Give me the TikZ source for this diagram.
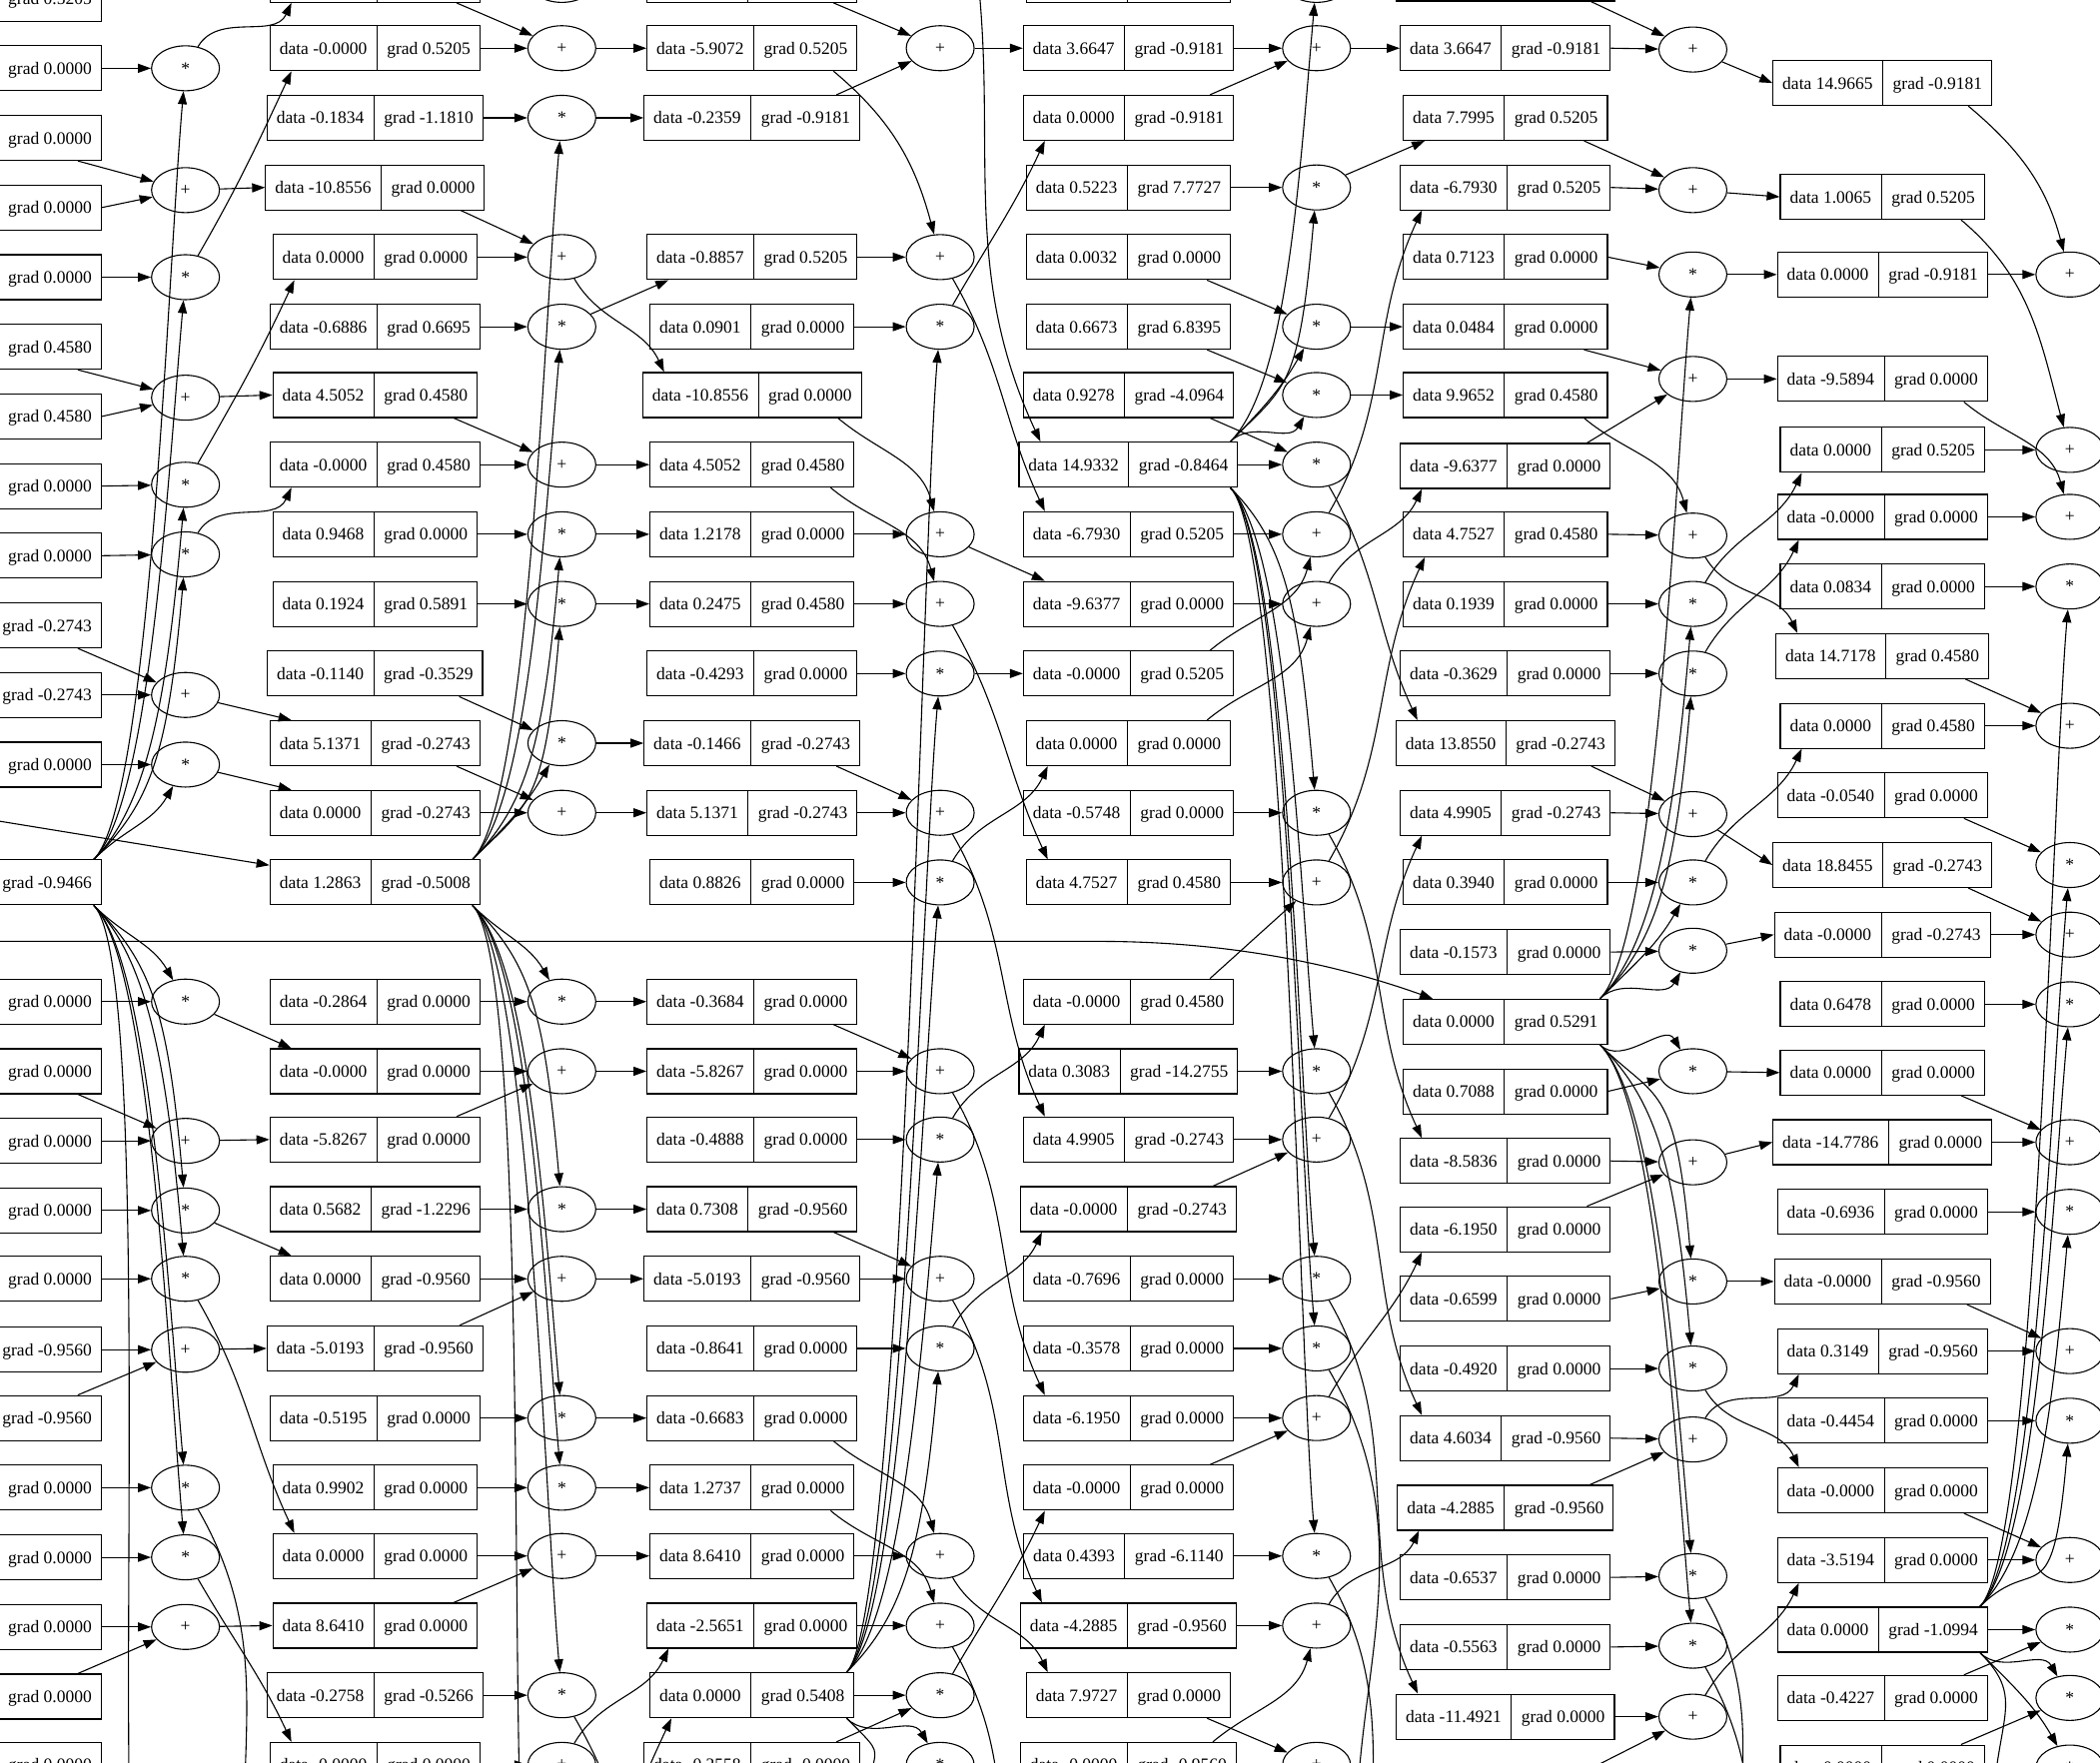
\documentclass[tikz,border=0pt]{standalone}
\usepackage{fontspec}
\setmainfont{Liberation Serif}
\usetikzlibrary{shapes.multipart,shapes.geometric,arrows.meta}
\newcommand\gvfont{\fontsize{4.375}{5}\selectfont}
\newcommand\gvsep{\hspace*{2.375pt}}
\newcommand\gvbar{\vrule width 0.275pt height 7.125pt depth 4.125pt}
\tikzset{
 rec/.style={rectangle, draw, line width=0.275pt, inner sep=0pt, font=\gvfont},
 op/.style={ellipse, draw, line width=0.275pt, minimum width=17pt, minimum height=11.25pt, inner sep=0pt, font=\gvfont},
 e/.style={-{Triangle[length=3.25pt,width=2.25pt]}, line width=0.275pt},
 fanlong/.style={out distance=20pt, in distance=45pt},
}
\newcommand\Rec[5]{\node[rec] (#1) at (#2,#3) {\gvsep data #4\gvsep\gvbar\gvsep grad #5\gvsep};}
\newcommand\RecA[4]{\node[rec,anchor=east] (#1) at (76,#2) {\gvsep data #3\gvsep\gvbar\gvsep grad #4\gvsep};}
\newcommand\Op[4]{\node[op] (#1) at (#2,#3) {#4};}
\newcommand\RH[2]{\draw[e] (#1.east) -- (#2);}
\newcommand\OH[2]{\draw[e] (#1) -- (#2.west);}
\newcommand\RDn[2]{\draw[e] ([xshift=-6pt]#1.south east) -- (#2);}
\newcommand\RUp[2]{\draw[e] ([xshift=-6pt]#1.north east) -- (#2);}
\newcommand\RDN[2]{\draw[e] ([xshift=-6pt]#1.south east) to[out=-40,in=105] (#2);}
\newcommand\RUP[2]{\draw[e] ([xshift=-6pt]#1.north east) to[out=40,in=-105] (#2);}
\newcommand\ODn[2]{\draw[e] (#1) -- ([xshift=5.5pt]#2.north west);}
\newcommand\OUp[2]{\draw[e] (#1) -- ([xshift=5.5pt]#2.south west);}
\newcommand\ODN[2]{\draw[e] (#1) to[out=-60,in=115] ([xshift=5.5pt]#2.north west);}
\newcommand\OUP[2]{\draw[e] (#1) to[out=60,in=-115] ([xshift=5.5pt]#2.south west);}
\newcommand\FUp[2]{\draw[e] ([xshift=-2pt]#1.north east) to[out=45,in=-95,fanlong] (#2);}
\newcommand\FDn[2]{\draw[e] ([xshift=-2pt]#1.south east) to[out=-45,in=95,fanlong] (#2);}
\newcommand\FUs[2]{\draw[e] ([xshift=-2pt]#1.north east) to[out=45,in=-120] (#2);}
\newcommand\FDs[2]{\draw[e] ([xshift=-2pt]#1.south east) to[out=-45,in=120] (#2);}
\newcommand\OFF[2]{\draw[e] (#1) to[out=-60,in=95] (#2);}
\begin{document}
\begin{tikzpicture}[x=0.33515pt,y=-0.33515pt]
\useasboundingbox (0,0) rectangle (1568,1316);
\fill[white] (0,0) rectangle (1568,1316);
\clip (0,0) rectangle (1568,1316);
% offscreen coordinates
\coordinate (cinB) at (-100,597);
\coordinate (cinE) at (-100,703);
\coordinate (cinEb) at (820,703);
\coordinate (ctopD) at (724,-60);
\coordinate (cA1) at (100,1420);
\coordinate (cP1) at (185,1420);
\coordinate (cB1) at (392,1420);
\coordinate (cQ1) at (470,1420);
\coordinate (cC0) at (455,1420);
\coordinate (cC1) at (650,1420);
\coordinate (cR1) at (752,1420);
\coordinate (cS1) at (1015,1420);
\coordinate (cS2) at (1028,1420);
\coordinate (cE1) at (1130,1350);
\coordinate (cT1) at (1302,1420);
\coordinate (cT2) at (1312,1420);
\coordinate (cF1) at (1490,1420);
% column A
\RecA{Am1}{-1}{0.0000}{0.5205}
\RecA{A51}{51}{0.0000}{0.0000}
\RecA{A103}{103}{-0.0000}{0.0000}
\RecA{A155}{155}{0.0000}{0.0000}
\RecA{A207}{207}{0.0000}{0.0000}
\RecA{A259}{259}{0.0000}{0.4580}
\RecA{A311}{311}{0.0000}{0.4580}
\RecA{A363}{363}{0.0000}{0.0000}
\RecA{A415}{415}{0.0000}{0.0000}
\RecA{A467}{467}{0.0000}{-0.2743}
\RecA{A519}{519}{0.0000}{-0.2743}
\RecA{A571}{571}{0.0000}{0.0000}
\RecA{A659}{659}{0.0000}{-0.9466}
\RecA{A748}{748}{0.0000}{0.0000}
\RecA{A800}{800}{0.0000}{0.0000}
\RecA{A852}{852}{0.0000}{0.0000}
\RecA{A904}{904}{0.0000}{0.0000}
\RecA{A955}{955}{0.0000}{0.0000}
\RecA{A1008}{1008}{0.0000}{-0.9560}
\RecA{A1059}{1059}{0.0000}{-0.9560}
\RecA{A1111}{1111}{0.0000}{0.0000}
\RecA{A1163}{1163}{0.0000}{0.0000}
\RecA{A1215}{1215}{0.0000}{0.0000}
\RecA{A1267}{1267}{0.0000}{0.0000}
\RecA{A1318}{1318}{0.0000}{0.0000}
% ops P
\Op{P51}{138.5}{51}{*}
\Op{P142}{138.5}{142}{+}
\Op{P207}{138.5}{207}{*}
\Op{P297}{138.5}{297}{+}
\Op{P362}{138.5}{362}{*}
\Op{P414}{138.5}{414}{*}
\Op{P519}{138.5}{519}{+}
\Op{P571}{138.5}{571}{*}
\Op{P748}{138.5}{748}{*}
\Op{P852}{138.5}{852}{+}
\Op{P904}{138.5}{904}{*}
\Op{P955}{138.5}{955}{*}
\Op{P1008}{138.5}{1008}{+}
\Op{P1111}{138.5}{1111}{*}
\Op{P1163}{138.5}{1163}{*}
\Op{P1215}{138.5}{1215}{+}
% column B
\Rec{Bm15}{280}{-15}{-5.9072}{0.5205}
\Rec{B36}{280}{36}{-0.0000}{0.5205}
\Rec{B88}{280}{88}{-0.1834}{-1.1810}
\Rec{B140}{280}{140}{-10.8556}{0.0000}
\Rec{B192}{280}{192}{0.0000}{0.0000}
\Rec{B244}{280}{244}{-0.6886}{0.6695}
\Rec{B295}{280}{295}{4.5052}{0.4580}
\Rec{B347}{280}{347}{-0.0000}{0.4580}
\Rec{B399}{280}{399}{0.9468}{0.0000}
\Rec{B451}{280}{451}{0.1924}{0.5891}
\Rec{B503}{280}{503}{-0.1140}{-0.3529}
\Rec{B555}{280}{555}{5.1371}{-0.2743}
\Rec{B607}{280}{607}{0.0000}{-0.2743}
\Rec{B659}{280}{659}{1.2863}{-0.5008}
\Rec{B748}{280}{748}{-0.2864}{0.0000}
\Rec{B800}{280}{800}{-0.0000}{0.0000}
\Rec{B851}{280}{851}{-5.8267}{0.0000}
\Rec{B903}{280}{903}{0.5682}{-1.2296}
\Rec{B955}{280}{955}{0.0000}{-0.9560}
\Rec{B1007}{280}{1007}{-5.0193}{-0.9560}
\Rec{B1059}{280}{1059}{-0.5195}{0.0000}
\Rec{B1111}{280}{1111}{0.9902}{0.0000}
\Rec{B1162}{280}{1162}{0.0000}{0.0000}
\Rec{B1214}{280}{1214}{8.6410}{0.0000}
\Rec{B1266}{280}{1266}{-0.2758}{-0.5266}
\Rec{B1318}{280}{1318}{-0.0000}{0.0000}
% ops Q
\Op{Qm15}{419.5}{-15}{+}
\Op{Q36}{419.5}{36}{+}
\Op{Q88}{419.5}{88}{*}
\Op{Q192}{419.5}{192}{+}
\Op{Q244}{419.5}{244}{*}
\Op{Q347}{419.5}{347}{+}
\Op{Q399}{419.5}{399}{*}
\Op{Q451}{419.5}{451}{*}
\Op{Q555}{419.5}{555}{*}
\Op{Q607}{419.5}{607}{+}
\Op{Q748}{419.5}{748}{*}
\Op{Q800}{419.5}{800}{+}
\Op{Q903}{419.5}{903}{*}
\Op{Q955}{419.5}{955}{+}
\Op{Q1059}{419.5}{1059}{*}
\Op{Q1111}{419.5}{1111}{*}
\Op{Q1162}{419.5}{1162}{+}
\Op{Q1266}{419.5}{1266}{*}
\Op{Q1318}{419.5}{1318}{+}
% column C
\Rec{Cm15}{561.5}{-15}{3.9006}{-0.9181}
\Rec{C36}{561.5}{36}{-5.9072}{0.5205}
\Rec{C88}{561.5}{88}{-0.2359}{-0.9181}
\Rec{C192}{561.5}{192}{-0.8857}{0.5205}
\Rec{C244}{561.5}{244}{0.0901}{0.0000}
\Rec{C295}{561.5}{295}{-10.8556}{0.0000}
\Rec{C347}{561.5}{347}{4.5052}{0.4580}
\Rec{C399}{561.5}{399}{1.2178}{0.0000}
\Rec{C451}{561.5}{451}{0.2475}{0.4580}
\Rec{C503}{561.5}{503}{-0.4293}{0.0000}
\Rec{C555}{561.5}{555}{-0.1466}{-0.2743}
\Rec{C607}{561.5}{607}{5.1371}{-0.2743}
\Rec{C659}{561.5}{659}{0.8826}{0.0000}
\Rec{C748}{561.5}{748}{-0.3684}{0.0000}
\Rec{C800}{561.5}{800}{-5.8267}{0.0000}
\Rec{C851}{561.5}{851}{-0.4888}{0.0000}
\Rec{C903}{561.5}{903}{0.7308}{-0.9560}
\Rec{C955}{561.5}{955}{-5.0193}{-0.9560}
\Rec{C1007}{561.5}{1007}{-0.8641}{0.0000}
\Rec{C1059}{561.5}{1059}{-0.6683}{0.0000}
\Rec{C1111}{561.5}{1111}{1.2737}{0.0000}
\Rec{C1162}{561.5}{1162}{8.6410}{0.0000}
\Rec{C1214}{561.5}{1214}{-2.5651}{0.0000}
\Rec{C1266}{561.5}{1266}{0.0000}{0.5408}
\Rec{C1318}{561.5}{1318}{-0.2558}{-0.0000}
% ops R
\Op{R36}{702}{36}{+}
\Op{R192}{702}{192}{+}
\Op{R244}{702}{244}{*}
\Op{R399}{702}{399}{+}
\Op{R451}{702}{451}{+}
\Op{R503}{702}{503}{*}
\Op{R607}{702}{607}{+}
\Op{R659}{702}{659}{*}
\Op{R800}{702}{800}{+}
\Op{R851}{702}{851}{*}
\Op{R955}{702}{955}{+}
\Op{R1007}{702}{1007}{*}
\Op{R1162}{702}{1162}{+}
\Op{R1214}{702}{1214}{+}
\Op{R1266}{702}{1266}{*}
\Op{R1318}{702}{1318}{*}
% column D
\Rec{Dm15}{842.5}{-15}{0.0000}{0.0000}
\Rec{D36}{842.5}{36}{3.6647}{-0.9181}
\Rec{D88}{842.5}{88}{0.0000}{-0.9181}
\Rec{D140}{842.5}{140}{0.5223}{7.7727}
\Rec{D192}{842.5}{192}{0.0032}{0.0000}
\Rec{D244}{842.5}{244}{0.6673}{6.8395}
\Rec{D295}{842.5}{295}{0.9278}{-4.0964}
\Rec{D347}{842.5}{347}{14.9332}{-0.8464}
\Rec{D399}{842.5}{399}{-6.7930}{0.5205}
\Rec{D451}{842.5}{451}{-9.6377}{0.0000}
\Rec{D503}{842.5}{503}{-0.0000}{0.5205}
\Rec{D555}{842.5}{555}{0.0000}{0.0000}
\Rec{D607}{842.5}{607}{-0.5748}{0.0000}
\Rec{D659}{842.5}{659}{4.7527}{0.4580}
\Rec{D748}{842.5}{748}{-0.0000}{0.4580}
\Rec{D800}{842.5}{800}{0.3083}{-14.2755}
\Rec{D851}{842.5}{851}{4.9905}{-0.2743}
\Rec{D903}{842.5}{903}{-0.0000}{-0.2743}
\Rec{D955}{842.5}{955}{-0.7696}{0.0000}
\Rec{D1007}{842.5}{1007}{-0.3578}{0.0000}
\Rec{D1059}{842.5}{1059}{-6.1950}{0.0000}
\Rec{D1111}{842.5}{1111}{-0.0000}{0.0000}
\Rec{D1162}{842.5}{1162}{0.4393}{-6.1140}
\Rec{D1214}{842.5}{1214}{-4.2885}{-0.9560}
\Rec{D1266}{842.5}{1266}{7.9727}{0.0000}
\Rec{D1318}{842.5}{1318}{-0.0000}{-0.9560}
% ops S
\Op{Sm15}{983}{-15}{*}
\Op{S36}{983}{36}{+}
\Op{S140}{983}{140}{*}
\Op{S244}{983}{244}{*}
\Op{S295}{983}{295}{*}
\Op{S347}{983}{347}{*}
\Op{S399}{983}{399}{+}
\Op{S451}{983}{451}{+}
\Op{S607}{983}{607}{*}
\Op{S659}{983}{659}{+}
\Op{S800}{983}{800}{*}
\Op{S851}{983}{851}{+}
\Op{S955}{983}{955}{*}
\Op{S1007}{983}{1007}{*}
\Op{S1059}{983}{1059}{+}
\Op{S1162}{983}{1162}{*}
\Op{S1214}{983}{1214}{+}
\Op{S1318}{983}{1318}{+}
% column E
\Rec{Em15}{1124}{-16}{11.3018}{-0.9181}
\Rec{E36}{1124}{36}{3.6647}{-0.9181}
\Rec{E88}{1124}{88}{7.7995}{0.5205}
\Rec{E140}{1124}{140}{-6.7930}{0.5205}
\Rec{E192}{1124}{192}{0.7123}{0.0000}
\Rec{E244}{1124}{244}{0.0484}{0.0000}
\Rec{E295}{1124}{295}{9.9652}{0.4580}
\Rec{E348}{1124}{348}{-9.6377}{0.0000}
\Rec{E399}{1124}{399}{4.7527}{0.4580}
\Rec{E451}{1124}{451}{0.1939}{0.0000}
\Rec{E503}{1124}{503}{-0.3629}{0.0000}
\Rec{E555}{1124}{555}{13.8550}{-0.2743}
\Rec{E607}{1124}{607}{4.9905}{-0.2743}
\Rec{E659}{1124}{659}{0.3940}{0.0000}
\Rec{E711}{1124}{711}{-0.1573}{0.0000}
\Rec{E763}{1124}{763}{0.0000}{0.5291}
\Rec{E815}{1124}{815}{0.7088}{0.0000}
\Rec{E867}{1124}{867}{-8.5836}{0.0000}
\Rec{E918}{1124}{918}{-6.1950}{0.0000}
\Rec{E970}{1124}{970}{-0.6599}{0.0000}
\Rec{E1022}{1124}{1022}{-0.4920}{0.0000}
\Rec{E1074}{1124}{1074}{4.6034}{-0.9560}
\Rec{E1126}{1124}{1126}{-4.2885}{-0.9560}
\Rec{E1178}{1124}{1178}{-0.6537}{0.0000}
\Rec{E1230}{1124}{1230}{-0.5563}{0.0000}
\Rec{E1282}{1124}{1282}{-11.4921}{0.0000}
% ops T
\Op{T37}{1264}{37}{+}
\Op{T142}{1264}{142}{+}
\Op{T205}{1264}{205}{*}
\Op{T283}{1264}{283}{+}
\Op{T400}{1264}{400}{+}
\Op{T451}{1264}{451}{*}
\Op{T503}{1264}{503}{*}
\Op{T608}{1264}{608}{+}
\Op{T659}{1264}{659}{*}
\Op{T710}{1264}{710}{*}
\Op{T800}{1264}{800}{*}
\Op{T868}{1264}{868}{+}
\Op{T957}{1264}{957}{*}
\Op{T1022}{1264}{1022}{*}
\Op{T1075}{1264}{1075}{+}
\Op{T1177}{1264}{1177}{*}
\Op{T1229}{1264}{1229}{*}
\Op{T1282}{1264}{1282}{+}
% column F
\Rec{F62}{1405.5}{62}{14.9665}{-0.9181}
\Rec{F147}{1405.5}{147}{1.0065}{0.5205}
\Rec{F205}{1405.5}{205}{0.0000}{-0.9181}
\Rec{F283}{1405.5}{283}{-9.5894}{0.0000}
\Rec{F336}{1405.5}{336}{0.0000}{0.5205}
\Rec{F386}{1405.5}{386}{-0.0000}{0.0000}
\Rec{F438}{1405.5}{438}{0.0834}{0.0000}
\Rec{F490}{1405.5}{490}{14.7178}{0.4580}
\Rec{F542}{1405.5}{542}{0.0000}{0.4580}
\Rec{F594}{1405.5}{594}{-0.0540}{0.0000}
\Rec{F646}{1405.5}{646}{18.8455}{-0.2743}
\Rec{F698}{1405.5}{698}{-0.0000}{-0.2743}
\Rec{F750}{1405.5}{750}{0.6478}{0.0000}
\Rec{F801}{1405.5}{801}{0.0000}{0.0000}
\Rec{F853}{1405.5}{853}{-14.7786}{0.0000}
\Rec{F905}{1405.5}{905}{-0.6936}{0.0000}
\Rec{F957}{1405.5}{957}{-0.0000}{-0.9560}
\Rec{F1009}{1405.5}{1009}{0.3149}{-0.9560}
\Rec{F1061}{1405.5}{1061}{-0.4454}{0.0000}
\Rec{F1113}{1405.5}{1113}{-0.0000}{0.0000}
\Rec{F1165}{1405.5}{1165}{-3.5194}{0.0000}
\Rec{F1217}{1405.5}{1217}{0.0000}{-1.0994}
\Rec{F1268}{1405.5}{1268}{-0.4227}{0.0000}
\Rec{F1320}{1405.5}{1320}{0.0000}{0.0000}
% ops U
\Op{U205}{1545.5}{205}{+}
\Op{U336}{1545.5}{336}{+}
\Op{U386}{1545.5}{386}{+}
\Op{U438}{1545.5}{438}{*}
\Op{U542}{1545.5}{542}{+}
\Op{U646}{1545.5}{646}{*}
\Op{U698}{1545.5}{698}{+}
\Op{U750}{1545.5}{750}{*}
\Op{U853}{1545.5}{853}{+}
\Op{U905}{1545.5}{905}{*}
\Op{U1009}{1545.5}{1009}{+}
\Op{U1061}{1545.5}{1061}{*}
\Op{U1165}{1545.5}{1165}{+}
\Op{U1217}{1545.5}{1217}{*}
\Op{U1268}{1545.5}{1268}{*}
\Op{U1320}{1545.5}{1320}{*}
% ===== edges A -> P
\RH{A51}{P51} \RDn{A103}{P142} \RH{A155}{P142} \RH{A207}{P207}
\RDn{A259}{P297} \RH{A311}{P297} \RH{A363}{P362} \RH{A415}{P414}
\RDn{A467}{P519} \RH{A519}{P519} \RH{A571}{P571} \RH{A748}{P748}
\RDn{A800}{P852} \RH{A852}{P852} \RH{A904}{P904} \RH{A955}{P955}
\RH{A1008}{P1008} \RUp{A1059}{P1008} \RH{A1111}{P1111} \RH{A1163}{P1163}
\RH{A1215}{P1215} \RUp{A1267}{P1215}
\FUp{A659}{P51} \FUp{A659}{P207} \FUp{A659}{P362} \FUp{A659}{P414} \FUs{A659}{P571}
\FDs{A659}{P748} \FDn{A659}{P904} \FDn{A659}{P955} \FDn{A659}{P1111} \FDn{A659}{P1163}
\draw[e] ([xshift=-2pt]A659.south east) to[out=-45,in=95,fanlong] (cA1);
% P -> B
\OUP{P51}{Bm15} \OH{P142}{B140} \OUP{P207}{B36} \OH{P297}{B295}
\OUP{P362}{B192} \OUP{P414}{B347} \ODn{P519}{B555} \ODn{P571}{B607}
\ODn{P748}{B800} \OH{P852}{B851} \ODn{P904}{B955} \ODN{P955}{B1162}
\OH{P1008}{B1007} \OFF{P1111}{cP1} \ODN{P1163}{B1318} \OH{P1215}{B1214}
\draw[e] (cinB) -- (B659);
% B -> Q
\RDn{Bm15}{Q36} \RH{B36}{Q36} \RH{B88}{Q88} \RDn{B140}{Q192} \RH{B192}{Q192}
\RH{B244}{Q244} \RDn{B295}{Q347} \RH{B347}{Q347} \RH{B399}{Q399} \RH{B451}{Q451}
\RDn{B503}{Q555} \RDn{B555}{Q607} \RH{B607}{Q607} \RH{B748}{Q748} \RH{B800}{Q800}
\RUp{B851}{Q800} \RH{B903}{Q903} \RH{B955}{Q955} \RUp{B1007}{Q955} \RH{B1059}{Q1059}
\RH{B1111}{Q1111} \RH{B1162}{Q1162} \RUp{B1214}{Q1162} \RH{B1266}{Q1266} \RH{B1318}{Q1318}
\FUp{B659}{Q88} \FUp{B659}{Q244} \FUp{B659}{Q399} \FUp{B659}{Q451} \FUs{B659}{Q555}
\FDs{B659}{Q748} \FDn{B659}{Q903} \FDn{B659}{Q1059} \FDn{B659}{Q1111} \FDn{B659}{Q1266}
\draw[e] ([xshift=-2pt]B659.south east) to[out=-45,in=95,fanlong] (cB1);
% Q -> C
\OH{Qm15}{Cm15} \OH{Q36}{C36} \OH{Q88}{C88} \ODN{Q192}{C295} \OUp{Q244}{C192}
\OH{Q347}{C347} \OH{Q399}{C399} \OH{Q451}{C451} \OH{Q555}{C555} \OH{Q607}{C607}
\OH{Q748}{C748} \OH{Q800}{C800} \OH{Q903}{C903} \OH{Q955}{C955} \OH{Q1059}{C1059}
\OH{Q1111}{C1111} \OH{Q1162}{C1162} \OFF{Q1266}{cQ1} \OUP{Q1318}{C1214}
\draw[e] (cC0) to[out=80,in=-115] ([xshift=5.5pt]C1266.south west);
% C -> R
\RDn{Cm15}{R36} \RUp{C88}{R36} \RDN{C36}{R192} \RH{C192}{R192} \RH{C244}{R244}
\RDN{C295}{R399} \RDN{C347}{R451} \RH{C399}{R399} \RH{C451}{R451} \RH{C503}{R503}
\RDn{C555}{R607} \RH{C607}{R607} \RH{C659}{R659} \RDn{C748}{R800} \RH{C800}{R800}
\RH{C851}{R851} \RDn{C903}{R955} \RH{C955}{R955} \RH{C1007}{R1007} \RDN{C1059}{R1162}
\RDN{C1111}{R1214} \RH{C1162}{R1162} \RH{C1214}{R1214} \RH{C1266}{R1266} \RUp{C1318}{R1266}
\FUp{C1266}{R244} \FUp{C1266}{R503} \FUp{C1266}{R659} \FUp{C1266}{R851} \FUp{C1266}{R1007}
\FDs{C1266}{R1318}
\draw[e] ([xshift=-2pt]C1266.south east) to[out=-45,in=95,fanlong] (cC1);
% R -> D
\OH{R36}{D36} \ODN{R192}{D399} \OUP{R244}{D88} \ODn{R399}{D451} \ODN{R451}{D659}
\OH{R503}{D503} \ODN{R607}{D851} \OUP{R659}{D555} \ODN{R800}{D1059} \OUP{R851}{D748}
\ODN{R955}{D1214} \OUP{R1007}{D903} \ODN{R1162}{D1266} \OFF{R1214}{cR1} \OUP{R1266}{D1111}
\draw[e] (ctopD) to[out=-80,in=115] ([xshift=5.5pt]D347.north west);
% D -> S
\RH{Dm15}{Sm15} \RH{D36}{S36} \RUp{D88}{S36} \RH{D140}{S140} \RDn{D192}{S244}
\RDn{D244}{S295} \RDn{D295}{S347} \RH{D347}{S347} \RH{D399}{S399} \RH{D451}{S451}
\RUP{D503}{S399} \RUP{D555}{S451} \RH{D607}{S607} \RH{D659}{S659} \RUp{D748}{S659}
\RH{D800}{S800} \RH{D851}{S851} \RUp{D903}{S851} \RH{D955}{S955} \RH{D1007}{S1007}
\RH{D1059}{S1059} \RUp{D1111}{S1059} \RH{D1162}{S1162} \RH{D1214}{S1214} \RUP{D1318}{S1214}
\RDn{D1266}{S1318}
\FUp{D347}{Sm15} \FUp{D347}{S140} \FUs{D347}{S244} \FUs{D347}{S295}
\FDn{D347}{S607} \FDn{D347}{S800} \FDn{D347}{S955} \FDn{D347}{S1007} \FDn{D347}{S1162}
% S -> E
\OH{S36}{E36} \OUp{S140}{E88} \OH{S244}{E244} \OH{S295}{E295} \ODN{S347}{E555}
\OUP{S399}{E140} \OUP{S451}{E348} \ODN{S607}{E867} \OUP{S659}{E399} \ODN{S800}{E1074}
\OUP{S851}{E607} \ODN{S955}{E1282} \OFF{S1007}{cS1} \OUP{S1059}{E918} \OFF{S1162}{cS2}
\OUP{S1214}{E1126}
\draw[e] (cinE) -- (cinEb) .. controls +(100,0) and +(-70,-25) .. ([xshift=7.5pt]E763.north west);
% E -> T
\RDn{Em15}{T37} \RH{E36}{T37} \RDn{E88}{T142} \RH{E140}{T142} \RH{E192}{T205}
\RDn{E244}{T283} \RUp{E348}{T283} \RDN{E295}{T400} \RH{E399}{T400} \RH{E451}{T451}
\RH{E503}{T503} \RDn{E555}{T608} \RH{E607}{T608} \RH{E659}{T659} \RH{E711}{T710}
\RH{E815}{T800} \RH{E867}{T868} \RUp{E918}{T868} \RH{E970}{T957} \RH{E1022}{T1022}
\RH{E1074}{T1075} \RUp{E1126}{T1075} \RH{E1178}{T1177} \RH{E1230}{T1229} \RH{E1282}{T1282}
\draw[e] (cE1) -- (T1282);
\FUp{E763}{T205} \FUp{E763}{T451} \FUp{E763}{T503} \FUs{E763}{T659} \FUs{E763}{T710}
\FDs{E763}{T800} \FDn{E763}{T957} \FDn{E763}{T1022} \FDn{E763}{T1177} \FDn{E763}{T1229}
% T -> F
\OH{T37}{F62} \OH{T142}{F147} \OH{T205}{F205} \OH{T283}{F283} \ODN{T400}{F490}
\OUP{T451}{F336} \OUP{T503}{F386} \OH{T608}{F646} \OUP{T659}{F542} \OH{T710}{F698}
\OH{T800}{F801} \OH{T868}{F853} \OH{T957}{F957} \ODN{T1022}{F1113} \OUP{T1075}{F1009}
\OFF{T1177}{cT1} \OFF{T1229}{cT2} \OUP{T1282}{F1165}
% F -> U
\RDN{F62}{U205} \RH{F205}{U205} \RDN{F147}{U336} \RH{F336}{U336} \RDN{F283}{U386}
\RH{F386}{U386} \RH{F438}{U438} \RDn{F490}{U542} \RH{F542}{U542} \RDn{F594}{U646}
\RDn{F646}{U698} \RH{F698}{U698} \RH{F750}{U750} \RDn{F801}{U853} \RH{F853}{U853}
\RH{F905}{U905} \RDn{F957}{U1009} \RH{F1009}{U1009} \RH{F1061}{U1061} \RDn{F1113}{U1165}
\RH{F1165}{U1165} \RH{F1217}{U1217} \RUp{F1268}{U1217} \RUp{F1320}{U1268}
\FUp{F1217}{U438} \FUp{F1217}{U646} \FUp{F1217}{U750} \FUp{F1217}{U905} \FUp{F1217}{U1061}
\FDs{F1217}{U1268} \FDs{F1217}{U1320}
\draw[e] ([xshift=-2pt]F1217.south east) to[out=-45,in=95,fanlong] (cF1);
\end{tikzpicture}
\end{document}
